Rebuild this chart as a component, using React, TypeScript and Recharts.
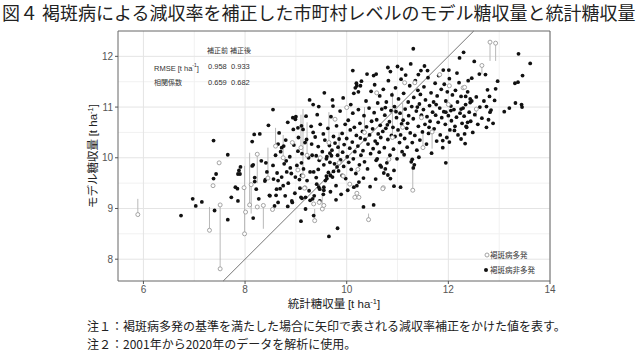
import React from 'react';
import {
  CartesianGrid,
  ErrorBar,
  ReferenceArea,
  ReferenceLine,
  Scatter,
  ScatterChart,
  XAxis,
  YAxis,
} from 'recharts';

// axis setup
const X_DOMAIN = [5.5, 14];
const Y_DOMAIN = [7.57, 12.5];
const X_TICKS = [6, 8, 10, 12, 14];
const Y_TICKS = [8, 9, 10, 11, 12];
const X_MAJOR = [6, 8, 10, 12, 14];
const X_MINOR = [7, 9, 11, 13];
const Y_MAJOR = [8, 9, 10, 11, 12];
const Y_MINOR = [8.5, 9.5, 10.5, 11.5];

// 褐斑病非多発 (black dots), [統計, モデル]
const blackLeft = [
  [6.74, 8.86], [6.97, 9.19], [7.03, 9.05], [7.15, 9.13], [7.4, 8.96], [7.38, 9.59],
  [7.43, 9.68], [7.66, 8.78], [7.73, 9.22], [7.81, 9.42], [7.85, 9.39], [7.86, 9.15],
  [7.86, 9.68], [7.88, 9.75], [7.91, 9.82], [8.16, 9.86], [8.19, 9.53], [8.27, 9.19],
  [8.16, 8.81], [7.38, 10.34], [7.66, 10.06], [8.18, 10.46], [8.29, 10.47], [8.14, 10.32],
  [8.55, 10.95], [8.46, 10.64], [8.67, 10.49], [8.84, 10.7], [8.94, 10.79], [9.0, 10.81],
  [8.4, 9.57], [8.43, 9.72], [8.41, 9.9], [8.48, 9.26], [8.58, 9.05], [8.61, 9.26],
  [8.65, 9.55], [8.69, 9.39], [8.82, 9.72], [8.89, 9.8], [8.84, 9.04], [8.92, 9.15],
  [8.99, 9.62], [9.07, 9.57], [9.11, 9.65], [7.9, 9.68], [8.14, 9.84], [8.19, 9.61],
  [8.22, 9.38], [8.32, 9.94], [8.39, 9.54], [8.49, 9.25], [8.56, 9.58], [8.62, 9.38],
  [8.65, 9.12], [8.75, 9.45], [8.79, 9.25], [8.93, 9.12], [8.72, 10.2], [8.76, 10.23],
  [8.81, 9.94], [8.95, 10.56], [8.99, 10.76], [9.04, 10.59], [9.04, 10.13], [9.11, 9.9],
  [9.21, 10.36], [9.31, 10.27], [9.34, 10.5], [8.65, 10.27],
];

const blackMid = [
  [8.55, 9.85], [8.6, 10.05], [8.63, 9.7], [8.7, 10.12], [8.72, 9.62], [8.77, 9.88],
  [8.8, 10.35], [8.85, 9.5], [8.88, 10.02], [8.91, 9.69], [8.96, 10.25], [9.02, 9.85],
  [9.05, 10.4], [9.08, 9.4], [9.12, 10.08], [9.15, 9.78], [9.18, 10.3], [9.22, 9.55],
  [9.25, 10.0], [9.28, 9.72], [9.3, 10.62], [9.2, 10.82], [9.1, 9.22], [8.98, 9.3],
  [9.26, 9.35], [9.56, 11.28], [9.27, 11.14], [9.34, 11.05], [9.45, 11.01], [9.14, 10.56],
  [9.11, 10.63], [9.72, 11.14], [9.65, 8.45], [9.82, 8.61], [9.1, 8.75], [9.35, 8.86],
  [10.33, 9.03], [10.53, 9.07], [9.79, 9.17], [9.19, 8.99], [9.12, 9.2], [9.19, 9.22],
  [9.28, 9.16], [9.33, 9.19], [9.45, 9.42], [9.55, 9.42], [9.55, 9.36], [9.61, 9.59],
  [9.68, 9.65], [9.74, 9.73], [9.81, 9.82], [9.91, 9.65], [10.14, 9.42], [10.2, 9.45],
  [10.6, 9.98], [10.76, 9.78], [10.66, 9.85], [10.81, 9.66], [10.86, 9.59], [10.93, 9.44],
  [11.06, 9.42], [9.4, 10.04], [9.4, 9.61], [9.44, 9.77], [9.47, 9.38], [9.54, 9.28],
  [9.6, 9.64], [9.67, 9.91], [9.7, 10.04],
];

const blackCore = [
  [9.32, 10.05], [9.35, 9.72], [9.38, 10.41], [9.41, 9.48], [9.44, 10.22], [9.46, 9.95],
  [9.48, 10.66], [9.36, 9.25], [9.42, 10.85], [9.47, 9.15],
  [9.52, 10.12], [9.55, 9.86], [9.57, 10.35], [9.58, 9.55], [9.61, 10.02], [9.63, 10.58],
  [9.64, 9.71], [9.66, 10.24], [9.68, 9.33], [9.69, 10.81], [9.54, 10.47], [9.6, 9.98], [9.67, 10.09],
  [9.71, 10.15], [9.72, 9.62], [9.74, 10.42], [9.76, 9.88], [9.77, 10.29], [9.79, 9.45],
  [9.8, 10.63], [9.82, 10.05], [9.84, 9.74], [9.85, 10.37], [9.87, 10.92], [9.88, 9.96],
  [9.73, 11.02], [9.83, 10.21], [9.89, 9.28],
  [9.91, 10.48], [9.92, 10.11], [9.94, 9.83], [9.95, 10.26], [9.97, 10.66], [9.98, 9.59],
  [10.0, 10.38], [10.01, 10.02], [10.03, 10.74], [10.04, 9.91], [10.06, 10.19], [10.07, 10.55],
  [10.09, 9.77], [9.93, 11.18], [10.08, 11.05], [10.02, 9.36],
  [10.11, 10.31], [10.12, 10.88], [10.13, 9.98], [10.15, 10.6], [10.16, 10.12], [10.18, 9.69],
  [10.19, 10.44], [10.2, 11.42], [10.22, 10.23], [10.23, 10.95], [10.25, 9.86], [10.26, 10.68],
  [10.28, 10.05], [10.29, 11.51], [10.14, 11.27], [10.24, 9.52], [10.27, 10.39],
  [10.31, 10.52], [10.32, 10.14], [10.34, 10.83], [10.35, 9.92], [10.36, 10.36], [10.38, 11.12],
  [10.39, 10.61], [10.41, 9.78], [10.42, 10.27], [10.44, 10.98], [10.45, 10.45], [10.47, 10.08],
  [10.48, 11.31], [10.49, 10.72], [10.33, 9.6], [10.4, 11.65], [10.46, 9.43],
  [10.51, 10.57], [10.52, 10.18], [10.54, 10.89], [10.55, 11.44], [10.56, 10.33], [10.58, 9.95],
  [10.59, 10.75], [10.61, 11.08], [10.62, 10.47], [10.64, 10.11], [10.65, 11.22], [10.66, 10.64],
  [10.68, 9.82], [10.69, 10.96], [10.53, 11.62], [10.6, 10.28], [10.67, 10.4], [10.57, 9.58],
  [10.71, 10.52], [10.72, 11.35], [10.74, 10.2], [10.75, 10.84], [10.77, 10.58], [10.78, 11.1],
  [10.79, 9.9], [10.81, 10.36], [10.82, 11.52], [10.84, 10.71], [10.85, 10.05], [10.87, 10.93],
  [10.88, 10.44], [10.89, 11.24], [10.73, 9.7], [10.8, 10.65], [10.86, 11.7], [10.76, 10.99],
  [10.91, 10.6], [10.92, 10.17], [10.94, 11.01], [10.95, 10.42], [10.96, 11.38], [10.98, 10.79],
  [10.99, 9.98], [11.01, 10.55], [11.02, 11.16], [11.04, 10.3], [11.05, 10.88], [11.07, 11.55],
  [11.08, 10.67], [11.09, 10.12], [10.93, 9.75], [11.0, 11.8], [11.06, 10.45], [10.97, 10.91],
  [11.11, 10.74], [11.12, 11.27], [11.14, 10.38], [11.15, 10.96], [11.16, 11.63], [11.18, 10.58],
  [11.19, 10.21], [11.21, 11.1], [11.22, 10.83], [11.24, 11.42], [11.25, 10.49], [11.27, 9.92],
  [11.28, 11.01], [11.13, 10.06], [11.2, 10.68], [11.26, 11.85], [11.29, 10.3],
  [11.31, 10.77], [11.32, 11.19], [11.34, 10.44], [11.35, 11.52], [11.37, 10.92], [11.38, 10.15],
  [11.4, 11.33], [11.41, 10.62], [11.43, 11.06], [11.44, 10.35], [11.46, 11.72], [11.47, 10.84],
  [11.49, 10.51], [11.33, 9.86], [11.39, 11.0], [11.45, 11.25],
  [11.51, 10.95], [11.52, 11.4], [11.54, 10.66], [11.55, 11.14], [11.57, 10.27], [11.58, 10.81],
  [11.6, 11.58], [11.61, 10.48], [11.63, 11.03], [11.64, 10.72], [11.66, 11.28], [11.67, 10.09],
  [11.69, 10.9], [11.53, 11.81], [11.62, 10.6],
  [11.71, 11.1], [11.72, 10.57], [11.74, 11.47], [11.75, 10.84], [11.77, 10.33], [11.78, 11.22],
  [11.8, 10.7], [11.81, 11.62], [11.83, 10.98], [11.84, 10.45], [11.86, 11.35], [11.87, 10.79],
  [11.89, 10.2], [11.76, 11.05],
  [11.91, 10.91], [11.92, 11.45], [11.94, 10.66], [11.95, 11.12], [11.97, 10.4], [11.98, 11.3],
  [12.0, 10.83], [12.02, 11.56], [12.03, 10.55], [12.05, 11.02], [12.06, 10.73], [12.08, 11.24],
  [12.11, 10.95], [12.13, 10.62], [12.14, 11.33], [12.16, 10.8], [12.18, 11.1], [12.19, 10.45],
  [12.21, 11.48], [12.23, 10.88], [12.25, 11.21], [12.27, 10.68], [12.29, 10.98],
  [12.31, 10.82], [12.34, 11.05], [12.36, 10.6], [12.38, 11.3], [12.41, 10.9], [12.44, 10.72],
  [12.46, 11.12], [12.48, 10.5],
  [12.52, 10.85], [12.55, 11.2], [12.58, 10.66], [12.62, 11.0], [12.66, 10.78], [12.7, 11.12],
  [12.75, 10.6], [12.82, 10.9], [12.88, 10.68],
  [10.12, 11.72], [10.81, 11.78], [11.08, 11.75], [10.58, 11.65], [10.19, 11.47], [10.27, 11.42],
  [10.17, 11.38], [10.23, 11.3],
];

const blackRight = [
  [11.31, 12.15], [12.3, 12.08], [12.22, 11.97], [12.51, 11.9], [13.38, 12.05], [13.61, 11.86],
  [13.46, 11.62], [13.37, 11.49], [13.31, 11.47], [12.97, 11.51], [12.93, 11.36], [12.77, 11.34],
  [12.81, 11.21], [12.91, 11.13], [12.84, 10.94], [12.75, 11.01], [13.1, 10.91], [13.2, 10.98],
  [13.32, 11.08], [13.44, 11.05], [13.45, 11.0], [12.79, 10.75], [12.61, 11.65], [12.73, 11.64],
  [12.46, 11.57], [12.39, 11.52], [12.17, 11.67], [12.01, 11.73], [11.9, 11.73], [11.59, 11.72],
  [11.41, 11.64], [12.34, 11.21], [12.43, 11.16], [12.43, 11.09], [12.38, 10.7], [12.35, 10.62],
  [12.32, 10.47], [12.25, 10.37], [12.33, 10.28], [12.02, 10.31], [11.89, 10.34], [12.12, 10.54],
  [12.25, 10.96], [12.05, 10.93], [11.95, 10.9], [11.29, 9.97], [11.42, 10.01], [11.31, 9.8],
  [11.95, 9.9],
];

// 褐斑病多発 (grey marks), [統計, 補正後モデル, 矢印の端]
const greyMarks = [
  [5.89, 8.88, 9.19], [7.3, 8.57, 9.03], [7.49, 9.9, 9.9], [7.37, 9.45, 9.45],
  [7.51, 7.81, 9.07], [7.51, 9.07, 9.07], [7.99, 8.5, 9.84], [8.01, 8.93, 8.93],
  [8.09, 9.07, 10.1], [7.98, 9.41, 9.41], [8.12, 9.47, 8.9], [8.24, 9.03, 9.03],
  [8.24, 10.07, 9.5], [8.36, 9.06, 8.6], [8.54, 8.98, 8.98], [8.6, 10.23, 10.59],
  [8.93, 10.3, 10.3], [9.04, 9.76, 9.76], [9.14, 9.64, 10.96], [9.18, 9.41, 9.41],
  [9.37, 8.76, 8.99], [9.46, 9.12, 9.12], [9.48, 10.0, 10.0], [9.52, 8.99, 9.25],
  [9.77, 10.76, 10.76], [9.93, 9.64, 9.64], [10.0, 10.99, 10.99], [10.06, 9.48, 9.48],
  [10.16, 9.22, 9.22], [10.22, 9.77, 9.77], [10.43, 8.78, 8.9], [10.59, 11.28, 11.28],
  [10.72, 9.41, 9.41], [10.83, 9.97, 9.97], [11.14, 11.48, 11.48], [11.3, 9.36, 9.85],
  [11.34, 11.48, 11.48], [11.5, 10.2, 10.5], [11.83, 11.64, 11.64], [12.0, 11.05, 11.05],
  [12.29, 11.38, 11.38], [12.82, 12.28, 11.91], [12.93, 12.26, 11.91], [12.66, 11.82, 11.65],
  [12.02, 11.42, 11.42], [12.32, 11.39, 11.39], [12.55, 10.96, 10.8], [11.68, 10.51, 10.18],
  [11.47, 10.79, 10.79], [9.17, 9.4, 9.4], [9.35, 9.09, 9.09], [9.55, 9.06, 9.06],
  [10.2, 9.3, 9.3], [10.24, 9.22, 9.22], [10.71, 9.39, 9.39], [9.1, 10.2, 10.85],
  [9.22, 10.05, 10.7], [8.75, 10.0, 10.45], [9.65, 10.3, 10.9], [10.35, 10.5, 11.0],
  [10.9, 10.4, 11.3], [11.1, 10.6, 11.1], [9.85, 9.9, 10.5], [8.45, 9.6, 10.2],
];

const blackData = [...blackLeft, ...blackMid, ...blackCore, ...blackRight].map(([x, y]) => ({ x, y }));
const greyData = greyMarks.map(([x, y, yEnd]) => ({
  x,
  y,
  err: yEnd > y ? [0, yEnd - y] : [y - yEnd, 0],
}));

const SANS = '"Liberation Sans", Arial, "Noto Sans CJK JP", sans-serif';
const JP = '"Noto Sans CJK JP", sans-serif';

const Dot = (props: any) => <circle cx={props.cx} cy={props.cy} r={1.9} fill="#111" />;
const OpenDot = (props: any) => (
  <circle cx={props.cx} cy={props.cy} r={2} fill="#fff" stroke="#9a9a9a" strokeWidth={0.9} />
);

const abs = (left: number, top: number, extra: React.CSSProperties = {}): React.CSSProperties => ({
  position: 'absolute',
  left,
  top,
  whiteSpace: 'nowrap',
  lineHeight: 1,
  ...extra,
});

export default function App() {
  return (
    <div style={{ position: 'absolute', left: 0, top: 0, width: 640, height: 352, background: '#fff', fontFamily: JP, color: '#222' }}>
      <div style={abs(2, 3, { fontSize: 18 })}>図４</div>
      <div style={abs(42, 3, { fontSize: 18 })}>褐斑病による減収率を補正した市町村レベルのモデル糖収量と統計糖収量</div>

      <div style={{ position: 'absolute', left: 0, top: 0 }}>
        <ScatterChart width={640} height={352} margin={{ top: 31, right: 90, bottom: 51, left: 88 }}>
          <CartesianGrid stroke="#f1f1f1" horizontalValues={Y_MINOR} verticalValues={X_MINOR} />
          <CartesianGrid stroke="#e4e4e4" horizontalValues={Y_MAJOR} verticalValues={X_MAJOR} />
          <XAxis
            type="number"
            dataKey="x"
            domain={X_DOMAIN}
            ticks={X_TICKS}
            allowDataOverflow
            axisLine={false}
            tickSize={3}
            tickLine={{ stroke: '#555' }}
            height={20}
            tick={{ fontSize: 10, fill: '#555', fontFamily: SANS }}
          />
          <YAxis
            type="number"
            dataKey="y"
            domain={Y_DOMAIN}
            ticks={Y_TICKS}
            allowDataOverflow
            axisLine={false}
            tickSize={3}
            tickLine={{ stroke: '#555' }}
            width={30}
            tick={{ fontSize: 10, fill: '#555', fontFamily: SANS }}
          />
          <ReferenceLine
            segment={[{ x: 7.57, y: 7.57 }, { x: 12.5, y: 12.5 }]}
            stroke="#666"
            strokeWidth={0.9}
          />
          <Scatter data={blackData} shape={Dot} isAnimationActive={false} />
          <Scatter data={greyData} shape={OpenDot} isAnimationActive={false}>
            <ErrorBar dataKey="err" direction="y" width={0} stroke="#b9b9b9" strokeWidth={1} />
          </Scatter>
          <ReferenceArea x1={5.5} x2={14} y1={7.57} y2={12.5} fill="none" stroke="#666" strokeWidth={1} ifOverflow="visible" />
        </ScatterChart>
      </div>

      {/* stats table */}
      <div style={abs(207, 47, { fontSize: 7, color: '#333' })}>補正前</div>
      <div style={abs(230, 47, { fontSize: 7, color: '#333' })}>補正後</div>
      <div style={abs(154, 63, { fontSize: 7.5, color: '#333', fontFamily: SANS })}>
        RMSE [t ha<sup style={{ fontSize: 5 }}>-1</sup>]
      </div>
      <div style={abs(208, 63, { fontSize: 7.5, color: '#333', fontFamily: SANS })}>0.958</div>
      <div style={abs(231, 63, { fontSize: 7.5, color: '#333', fontFamily: SANS })}>0.933</div>
      <div style={abs(154, 79, { fontSize: 7, color: '#333' })}>相関係数</div>
      <div style={abs(208, 79, { fontSize: 7.5, color: '#333', fontFamily: SANS })}>0.659</div>
      <div style={abs(231, 79, { fontSize: 7.5, color: '#333', fontFamily: SANS })}>0.682</div>

      {/* legend */}
      <svg style={{ position: 'absolute', left: 482, top: 250 }} width={10} height={26}>
        <circle cx={5} cy={5} r={2} fill="#fff" stroke="#9a9a9a" strokeWidth={0.9} />
        <circle cx={4} cy={20} r={2} fill="#111" />
      </svg>
      <div style={abs(490, 251, { fontSize: 7.5, color: '#333' })}>褐斑病多発</div>
      <div style={abs(490, 266, { fontSize: 7.5, color: '#333' })}>褐斑病非多発</div>

      {/* axis titles */}
      <div style={abs(93, 156, { fontSize: 11.5, transform: 'translate(-50%, -50%) rotate(-90deg)', color: '#222' })}>
        モデル糖収量 <span style={{ fontFamily: SANS }}>[t ha<sup style={{ fontSize: 7.5 }}>-1</sup>]</span>
      </div>
      <div style={abs(334, 304, { fontSize: 11.5, transform: 'translate(-50%, -50%)', color: '#222' })}>
        統計糖収量 <span style={{ fontFamily: SANS }}>[t ha<sup style={{ fontSize: 7.5 }}>-1</sup>]</span>
      </div>

      {/* notes */}
      <div style={abs(87, 320, { fontSize: 12 })}>注１：褐斑病多発の基準を満たした場合に矢印で表される減収率補正をかけた値を表す。</div>
      <div style={abs(87, 338, { fontSize: 12 })}>注２：2001年から2020年のデータを解析に使用。</div>
    </div>
  );
}
